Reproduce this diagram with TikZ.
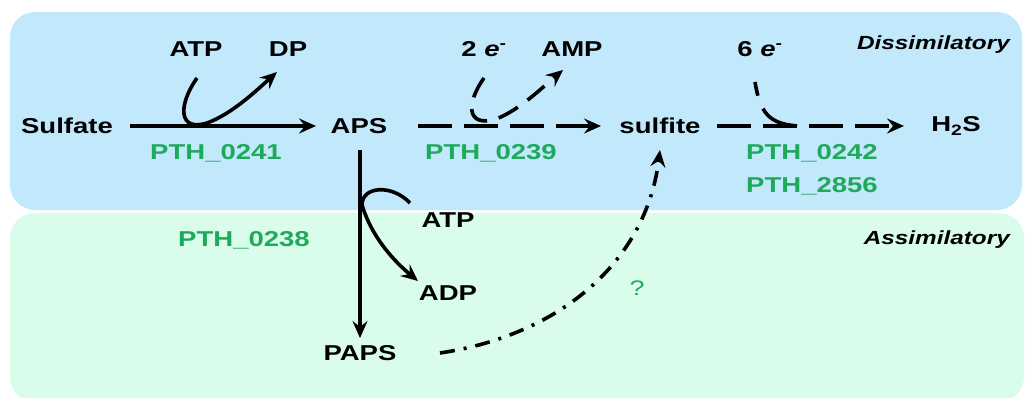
\documentclass[tikz,border=0pt]{standalone}
\usepackage{fontspec}
\setmainfont{Liberation Sans}[FakeStretch=1.28]
\usetikzlibrary{arrows.meta}
\definecolor{dissbg}{HTML}{C2E8FB}
\definecolor{assbg}{HTML}{DAFCEB}
\definecolor{gene}{HTML}{1FA95A}
\begin{document}
\begin{tikzpicture}[x=1pt,y=-1pt,
  lbl/.style={font=\fontsize{21.5}{24}\selectfont\bfseries, inner sep=0pt},
  glbl/.style={lbl, text=gene},
  reg/.style={font=\fontsize{19}{22}\selectfont\bfseries\itshape, inner sep=0pt, anchor=east},
  conn/.style={line width=3.6pt, -{Stealth[length=17pt,width=15pt,inset=6pt]}},
  side/.style={line width=3.6pt},
  longdash/.style={dash pattern=on 34pt off 12pt},
  dashdot/.style={dash pattern=on 15pt off 9pt on 3pt off 9pt}]
\useasboundingbox (0,0) rectangle (1027,398);
\fill[dissbg, rounded corners=25pt] (10,12) rectangle (1022,210);
\fill[assbg, rounded corners=25pt] (10,213) rectangle (1024,402);

% labels
\node[reg] (diss) at (1010,45) {Dissimilatory};
\node[reg] (assim) at (1010,240) {Assimilatory};

% main nodes
\node[lbl] (sulfate) at (67,126) {Sulfate};
\node[lbl] (aps) at (359,126) {APS};
\node[lbl] (sulfite) at (660,126) {sulfite};
\node[lbl] (h2s) at (956,126) {H\textsubscript{2}S};
\node[lbl] (paps) at (360,353) {PAPS};

% cofactors
\node[lbl] (atp1) at (196,49) {ATP};
\node[lbl] (dp) at (288,49) {DP};
\node[lbl] (e2) at (484,49) {2 \textit{e}\textsuperscript{-}};
\node[lbl] (amp) at (572,49) {AMP};
\node[lbl] (e6) at (760,49) {6 \textit{e}\textsuperscript{-}};
\node[lbl] (atp2) at (448,220) {ATP};
\node[lbl] (adp) at (448,293) {ADP};

% genes
\node[glbl] (g241) at (216,153) {PTH\_0241};
\node[glbl] (g239) at (491,153) {PTH\_0239};
\node[glbl] (g242) at (812,153) {PTH\_0242};
\node[glbl] (g2856) at (812,186) {PTH\_2856};
\node[glbl] (g238) at (244,240) {PTH\_0238};
\node[text=gene, font=\fontsize{21}{24}\selectfont, inner sep=0pt] (q) at (637,288) {?};

% connector end points
\coordinate (s1) at (130,126);
\coordinate (t1) at (316,126);
\coordinate (s2) at (418,126);
\coordinate (t2) at (601,126);
\coordinate (s3) at (717,126);
\coordinate (t3) at (904,126);
\coordinate (s4) at (360,150);
\coordinate (t4) at (360,338);
\coordinate (s5) at (440,353);
\coordinate (t5) at (660,150);

% main reactions
\draw[conn] (s1) -- (t1);
\draw[conn, longdash] (s2) -- (t2);
\draw[conn, longdash] (s3) -- (t3);
\draw[conn] (s4) -- (t4);
\draw[conn, dashdot] (s5) .. controls (560,335) and (646,262) .. (t5);

% cofactor curves
\draw[conn] (197,78) .. controls (178,105) and (178,132) .. (207,123)
   .. controls (232,114) and (257,90) .. (277,72);
\draw[conn, dash pattern=on 22pt off 12pt] (484,78) .. controls (466,103) and (466,128) .. (496,119)
   .. controls (520,110) and (545,85) .. (563,70);
\draw[side, dash pattern=on 14pt off 14pt on 40pt off 40pt] (755,82) .. controls (760,112) and (768,124) .. (798,126);
\draw[conn] (410,203) .. controls (392,184) and (362,186) .. (362,205)
   .. controls (372,238) and (395,262) .. (418,281);
\end{tikzpicture}
\end{document}
